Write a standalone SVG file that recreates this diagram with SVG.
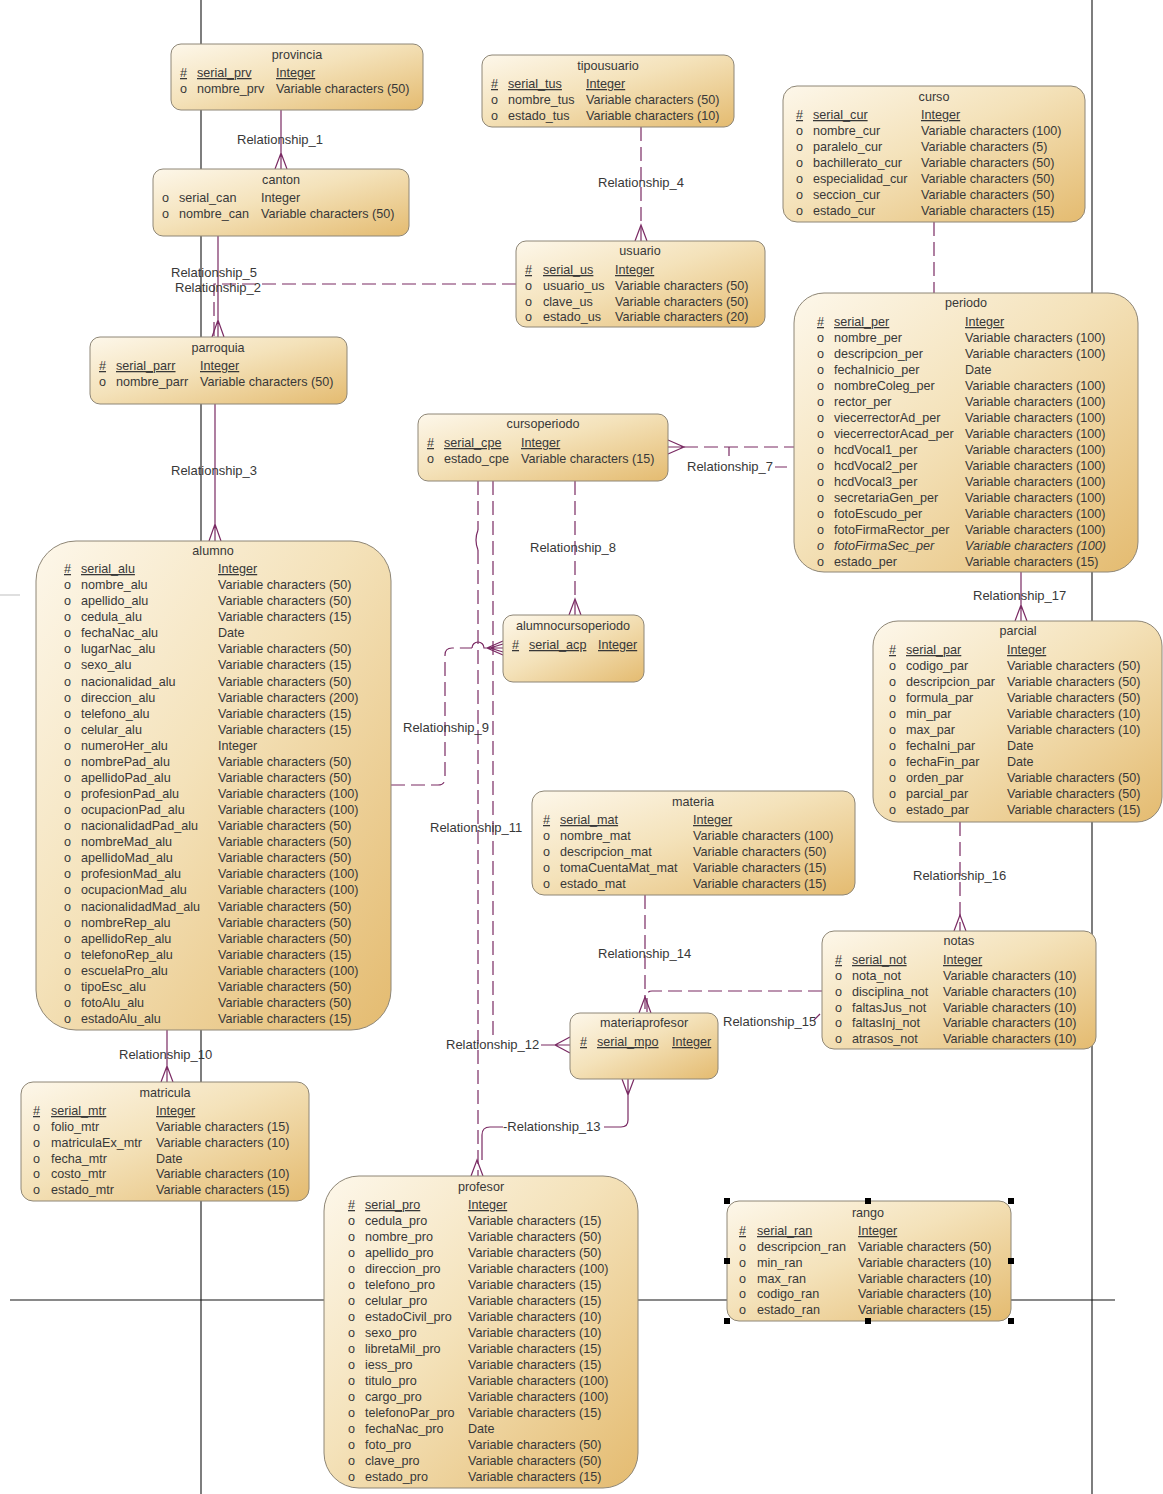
<svg xmlns="http://www.w3.org/2000/svg" width="1163" height="1494" viewBox="0 0 1163 1494">
<defs>
<linearGradient id="g" x1="0" y1="0" x2="1" y2="1">
<stop offset="0" stop-color="#fdf7ea"/>
<stop offset="0.45" stop-color="#f4e2ba"/>
<stop offset="1" stop-color="#e4bb70"/>
</linearGradient>
<style>
.box{fill:url(#g);stroke:#8e8676;stroke-width:1}
text{font-family:"Liberation Sans",Arial,sans-serif;font-size:12.6px;fill:#383838}
.ti{text-anchor:middle}
.u{text-decoration:underline}
.lb{font-size:13px}
.c{stroke:#7a2a63;fill:none;stroke-width:1.2}
.d{stroke-dasharray:14 6}
.pg{stroke:#151515;stroke-width:1.1;fill:none}
.h{fill:#000}
</style>
</defs>
<rect width="1163" height="1494" fill="#fff"/>
<g id="page">
<path class="pg" d="M201,0V1494M1092,0V1494M10,1300H1115"/>
<path d="M0,595H20" stroke="#d5d5d5" stroke-width="1.5"/>
</g>
<g id="connectors">
<path class="c" d="M281,110V169M275,169L281,153L287,169"/>
<path class="c" d="M218,236V337M212,337L218,320L224,337"/>
<path class="c d" d="M516,284H214V337"/>
<path class="c d" d="M641,127V241"/><path class="c" d="M635,241L641,225L647,241"/>
<path class="c d" d="M934,222V293"/>
<path class="c" d="M215,404V541M209,541L215,524L221,541"/>
<path class="c d" d="M684,447H794"/><path class="c" d="M668,440L684,447L668,454M668,447H684M729,447V456M775,467H787"/>
<path class="c d" d="M575,481V615"/><path class="c" d="M569,615L575,599L581,615"/>
<path class="c d" d="M391,785H438Q445,785 445,778V655Q445,648 452,648H472"/><path class="c" d="M472,648A6,6 0 0 1 484,648H503M503,641L487,648L503,655M503,644L490,648L503,652"/>
<path class="c d" d="M478,481V530"/><path class="c" d="M478,530Q474,540 478,550"/><path class="c d" d="M478,550V1176"/>
<path class="c" d="M471,1176L477,1160L483,1176"/>
<path class="c d" d="M493,481V1036"/>
<path class="c" d="M541,1045H570M570,1037L555,1045L570,1053"/>
<path class="c" d="M628,1079V1120Q628,1127 621,1127H604M622,1079L628,1095L634,1079"/>
<path class="c" d="M503,1127H490Q482,1127 482,1135V1160"/>
<path class="c" d="M167,1030V1082M161,1082L167,1066L173,1082"/>
<path class="c d" d="M645,895V1013"/><path class="c" d="M639,1013L645,997L651,1013"/>
<path class="c d" d="M822,991H652Q647,991 647,996V1013"/><path class="c" d="M814,1020L820,1014"/>
<path class="c d" d="M960,822V931"/><path class="c" d="M954,931L960,915L966,931"/>
<path class="c" d="M1021,572V621M1015,621L1021,605L1027,621"/>
</g>
<g id="labels">
<text class="lb" x="237" y="144">Relationship_1</text>
<text class="lb" x="171" y="277">Relationship_5</text>
<text class="lb" x="175" y="292">Relationship_2</text>
<text class="lb" x="598" y="187">Relationship_4</text>
<text class="lb" x="171" y="475">Relationship_3</text>
<text class="lb" x="687" y="471">Relationship_7</text>
<text class="lb" x="530" y="552">Relationship_8</text>
<text class="lb" x="403" y="732">Relationship_9</text>
<text class="lb" x="430" y="832">Relationship_11</text>
<text class="lb" x="119" y="1059">Relationship_10</text>
<text class="lb" x="446" y="1049">Relationship_12</text>
<text class="lb" x="503" y="1131">-Relationship_13</text>
<text class="lb" x="598" y="958">Relationship_14</text>
<text class="lb" x="723" y="1026">Relationship_15</text>
<text class="lb" x="913" y="880">Relationship_16</text>
<text class="lb" x="973" y="600">Relationship_17</text>
</g>
<g id="provincia">
<rect class="box" x="171" y="44" width="252" height="66" rx="10"/>
<text class="ti" x="297" y="59">provincia</text>
<text class="u" y="77"><tspan x="180">#</tspan><tspan x="197">serial_prv</tspan><tspan x="276">Integer</tspan></text>
<text y="93"><tspan x="180">o</tspan><tspan x="197">nombre_prv</tspan><tspan x="276">Variable characters (50)</tspan></text>
</g>
<g id="canton">
<rect class="box" x="153" y="169" width="256" height="67" rx="10"/>
<text class="ti" x="281" y="184">canton</text>
<text y="202"><tspan x="162">o</tspan><tspan x="179">serial_can</tspan><tspan x="261">Integer</tspan></text>
<text y="218"><tspan x="162">o</tspan><tspan x="179">nombre_can</tspan><tspan x="261">Variable characters (50)</tspan></text>
</g>
<g id="tipousuario">
<rect class="box" x="482" y="55" width="252" height="72" rx="10"/>
<text class="ti" x="608" y="70">tipousuario</text>
<text class="u" y="88"><tspan x="491">#</tspan><tspan x="508">serial_tus</tspan><tspan x="586">Integer</tspan></text>
<text y="104"><tspan x="491">o</tspan><tspan x="508">nombre_tus</tspan><tspan x="586">Variable characters (50)</tspan></text>
<text y="120"><tspan x="491">o</tspan><tspan x="508">estado_tus</tspan><tspan x="586">Variable characters (10)</tspan></text>
</g>
<g id="usuario">
<rect class="box" x="516" y="241" width="249" height="86" rx="10"/>
<text class="ti" x="640" y="255">usuario</text>
<text class="u" y="274"><tspan x="525">#</tspan><tspan x="543">serial_us</tspan><tspan x="615">Integer</tspan></text>
<text y="290"><tspan x="525">o</tspan><tspan x="543">usuario_us</tspan><tspan x="615">Variable characters (50)</tspan></text>
<text y="306"><tspan x="525">o</tspan><tspan x="543">clave_us</tspan><tspan x="615">Variable characters (50)</tspan></text>
<text y="321"><tspan x="525">o</tspan><tspan x="543">estado_us</tspan><tspan x="615">Variable characters (20)</tspan></text>
</g>
<g id="curso">
<rect class="box" x="783" y="86" width="302" height="136" rx="14"/>
<text class="ti" x="934" y="101">curso</text>
<text class="u" y="119"><tspan x="796">#</tspan><tspan x="813">serial_cur</tspan><tspan x="921">Integer</tspan></text>
<text y="135"><tspan x="796">o</tspan><tspan x="813">nombre_cur</tspan><tspan x="921">Variable characters (100)</tspan></text>
<text y="151"><tspan x="796">o</tspan><tspan x="813">paralelo_cur</tspan><tspan x="921">Variable characters (5)</tspan></text>
<text y="167"><tspan x="796">o</tspan><tspan x="813">bachillerato_cur</tspan><tspan x="921">Variable characters (50)</tspan></text>
<text y="183"><tspan x="796">o</tspan><tspan x="813">especialidad_cur</tspan><tspan x="921">Variable characters (50)</tspan></text>
<text y="199"><tspan x="796">o</tspan><tspan x="813">seccion_cur</tspan><tspan x="921">Variable characters (50)</tspan></text>
<text y="215"><tspan x="796">o</tspan><tspan x="813">estado_cur</tspan><tspan x="921">Variable characters (15)</tspan></text>
</g>
<g id="periodo">
<rect class="box" x="794" y="293" width="344" height="279" rx="30"/>
<text class="ti" x="966" y="307">periodo</text>
<text class="u" y="326"><tspan x="817">#</tspan><tspan x="834">serial_per</tspan><tspan x="965">Integer</tspan></text>
<text y="342"><tspan x="817">o</tspan><tspan x="834">nombre_per</tspan><tspan x="965">Variable characters (100)</tspan></text>
<text y="358"><tspan x="817">o</tspan><tspan x="834">descripcion_per</tspan><tspan x="965">Variable characters (100)</tspan></text>
<text y="374"><tspan x="817">o</tspan><tspan x="834">fechaInicio_per</tspan><tspan x="965">Date</tspan></text>
<text y="390"><tspan x="817">o</tspan><tspan x="834">nombreColeg_per</tspan><tspan x="965">Variable characters (100)</tspan></text>
<text y="406"><tspan x="817">o</tspan><tspan x="834">rector_per</tspan><tspan x="965">Variable characters (100)</tspan></text>
<text y="422"><tspan x="817">o</tspan><tspan x="834">viecerrectorAd_per</tspan><tspan x="965">Variable characters (100)</tspan></text>
<text y="438"><tspan x="817">o</tspan><tspan x="834">viecerrectorAcad_per</tspan><tspan x="965">Variable characters (100)</tspan></text>
<text y="454"><tspan x="817">o</tspan><tspan x="834">hcdVocal1_per</tspan><tspan x="965">Variable characters (100)</tspan></text>
<text y="470"><tspan x="817">o</tspan><tspan x="834">hcdVocal2_per</tspan><tspan x="965">Variable characters (100)</tspan></text>
<text y="486"><tspan x="817">o</tspan><tspan x="834">hcdVocal3_per</tspan><tspan x="965">Variable characters (100)</tspan></text>
<text y="502"><tspan x="817">o</tspan><tspan x="834">secretariaGen_per</tspan><tspan x="965">Variable characters (100)</tspan></text>
<text y="518"><tspan x="817">o</tspan><tspan x="834">fotoEscudo_per</tspan><tspan x="965">Variable characters (100)</tspan></text>
<text y="534"><tspan x="817">o</tspan><tspan x="834">fotoFirmaRector_per</tspan><tspan x="965">Variable characters (100)</tspan></text>
<text y="550" font-style="italic"><tspan x="817">o</tspan><tspan x="834">fotoFirmaSec_per</tspan><tspan x="965">Variable characters (100)</tspan></text>
<text y="566"><tspan x="817">o</tspan><tspan x="834">estado_per</tspan><tspan x="965">Variable characters (15)</tspan></text>
</g>
<g id="parroquia">
<rect class="box" x="90" y="337" width="257" height="67" rx="10"/>
<text class="ti" x="218" y="352">parroquia</text>
<text class="u" y="370"><tspan x="99">#</tspan><tspan x="116">serial_parr</tspan><tspan x="200">Integer</tspan></text>
<text y="386"><tspan x="99">o</tspan><tspan x="116">nombre_parr</tspan><tspan x="200">Variable characters (50)</tspan></text>
</g>
<g id="cursoperiodo">
<rect class="box" x="418" y="414" width="250" height="67" rx="10"/>
<text class="ti" x="543" y="428">cursoperiodo</text>
<text class="u" y="447"><tspan x="427">#</tspan><tspan x="444">serial_cpe</tspan><tspan x="521">Integer</tspan></text>
<text y="463"><tspan x="427">o</tspan><tspan x="444">estado_cpe</tspan><tspan x="521">Variable characters (15)</tspan></text>
</g>
<g id="alumnocursoperiodo">
<rect class="box" x="503" y="615" width="141" height="67" rx="10"/>
<text class="ti" x="573" y="630">alumnocursoperiodo</text>
<text class="u" y="649"><tspan x="512">#</tspan><tspan x="529">serial_acp</tspan><tspan x="598">Integer</tspan></text>
</g>
<g id="alumno">
<rect class="box" x="36" y="541" width="355" height="489" rx="40"/>
<text class="ti" x="213" y="555">alumno</text>
<text class="u" y="573"><tspan x="64">#</tspan><tspan x="81">serial_alu</tspan><tspan x="218">Integer</tspan></text>
<text y="589.1"><tspan x="64">o</tspan><tspan x="81">nombre_alu</tspan><tspan x="218">Variable characters (50)</tspan></text>
<text y="605.1"><tspan x="64">o</tspan><tspan x="81">apellido_alu</tspan><tspan x="218">Variable characters (50)</tspan></text>
<text y="621.2"><tspan x="64">o</tspan><tspan x="81">cedula_alu</tspan><tspan x="218">Variable characters (15)</tspan></text>
<text y="637.3"><tspan x="64">o</tspan><tspan x="81">fechaNac_alu</tspan><tspan x="218">Date</tspan></text>
<text y="653.4"><tspan x="64">o</tspan><tspan x="81">lugarNac_alu</tspan><tspan x="218">Variable characters (50)</tspan></text>
<text y="669.4"><tspan x="64">o</tspan><tspan x="81">sexo_alu</tspan><tspan x="218">Variable characters (15)</tspan></text>
<text y="685.5"><tspan x="64">o</tspan><tspan x="81">nacionalidad_alu</tspan><tspan x="218">Variable characters (50)</tspan></text>
<text y="701.6"><tspan x="64">o</tspan><tspan x="81">direccion_alu</tspan><tspan x="218">Variable characters (200)</tspan></text>
<text y="717.6"><tspan x="64">o</tspan><tspan x="81">telefono_alu</tspan><tspan x="218">Variable characters (15)</tspan></text>
<text y="733.7"><tspan x="64">o</tspan><tspan x="81">celular_alu</tspan><tspan x="218">Variable characters (15)</tspan></text>
<text y="749.8"><tspan x="64">o</tspan><tspan x="81">numeroHer_alu</tspan><tspan x="218">Integer</tspan></text>
<text y="765.8"><tspan x="64">o</tspan><tspan x="81">nombrePad_alu</tspan><tspan x="218">Variable characters (50)</tspan></text>
<text y="781.9"><tspan x="64">o</tspan><tspan x="81">apellidoPad_alu</tspan><tspan x="218">Variable characters (50)</tspan></text>
<text y="798"><tspan x="64">o</tspan><tspan x="81">profesionPad_alu</tspan><tspan x="218">Variable characters (100)</tspan></text>
<text y="814.1"><tspan x="64">o</tspan><tspan x="81">ocupacionPad_alu</tspan><tspan x="218">Variable characters (100)</tspan></text>
<text y="830.1"><tspan x="64">o</tspan><tspan x="81">nacionalidadPad_alu</tspan><tspan x="218">Variable characters (50)</tspan></text>
<text y="846.2"><tspan x="64">o</tspan><tspan x="81">nombreMad_alu</tspan><tspan x="218">Variable characters (50)</tspan></text>
<text y="862.3"><tspan x="64">o</tspan><tspan x="81">apellidoMad_alu</tspan><tspan x="218">Variable characters (50)</tspan></text>
<text y="878.3"><tspan x="64">o</tspan><tspan x="81">profesionMad_alu</tspan><tspan x="218">Variable characters (100)</tspan></text>
<text y="894.4"><tspan x="64">o</tspan><tspan x="81">ocupacionMad_alu</tspan><tspan x="218">Variable characters (100)</tspan></text>
<text y="910.5"><tspan x="64">o</tspan><tspan x="81">nacionalidadMad_alu</tspan><tspan x="218">Variable characters (50)</tspan></text>
<text y="926.5"><tspan x="64">o</tspan><tspan x="81">nombreRep_alu</tspan><tspan x="218">Variable characters (50)</tspan></text>
<text y="942.6"><tspan x="64">o</tspan><tspan x="81">apellidoRep_alu</tspan><tspan x="218">Variable characters (50)</tspan></text>
<text y="958.7"><tspan x="64">o</tspan><tspan x="81">telefonoRep_alu</tspan><tspan x="218">Variable characters (15)</tspan></text>
<text y="974.8"><tspan x="64">o</tspan><tspan x="81">escuelaPro_alu</tspan><tspan x="218">Variable characters (100)</tspan></text>
<text y="990.8"><tspan x="64">o</tspan><tspan x="81">tipoEsc_alu</tspan><tspan x="218">Variable characters (50)</tspan></text>
<text y="1006.9"><tspan x="64">o</tspan><tspan x="81">fotoAlu_alu</tspan><tspan x="218">Variable characters (50)</tspan></text>
<text y="1023"><tspan x="64">o</tspan><tspan x="81">estadoAlu_alu</tspan><tspan x="218">Variable characters (15)</tspan></text>
</g>
<g id="parcial">
<rect class="box" x="873" y="621" width="289" height="201" rx="25"/>
<text class="ti" x="1018" y="635">parcial</text>
<text class="u" y="654"><tspan x="889">#</tspan><tspan x="906">serial_par</tspan><tspan x="1007">Integer</tspan></text>
<text y="670"><tspan x="889">o</tspan><tspan x="906">codigo_par</tspan><tspan x="1007">Variable characters (50)</tspan></text>
<text y="686"><tspan x="889">o</tspan><tspan x="906">descripcion_par</tspan><tspan x="1007">Variable characters (50)</tspan></text>
<text y="702"><tspan x="889">o</tspan><tspan x="906">formula_par</tspan><tspan x="1007">Variable characters (50)</tspan></text>
<text y="718"><tspan x="889">o</tspan><tspan x="906">min_par</tspan><tspan x="1007">Variable characters (10)</tspan></text>
<text y="734"><tspan x="889">o</tspan><tspan x="906">max_par</tspan><tspan x="1007">Variable characters (10)</tspan></text>
<text y="750"><tspan x="889">o</tspan><tspan x="906">fechaIni_par</tspan><tspan x="1007">Date</tspan></text>
<text y="766"><tspan x="889">o</tspan><tspan x="906">fechaFin_par</tspan><tspan x="1007">Date</tspan></text>
<text y="782"><tspan x="889">o</tspan><tspan x="906">orden_par</tspan><tspan x="1007">Variable characters (50)</tspan></text>
<text y="798"><tspan x="889">o</tspan><tspan x="906">parcial_par</tspan><tspan x="1007">Variable characters (50)</tspan></text>
<text y="814"><tspan x="889">o</tspan><tspan x="906">estado_par</tspan><tspan x="1007">Variable characters (15)</tspan></text>
</g>
<g id="materia">
<rect class="box" x="532" y="791" width="323" height="104" rx="12"/>
<text class="ti" x="693" y="806">materia</text>
<text class="u" y="824"><tspan x="543">#</tspan><tspan x="560">serial_mat</tspan><tspan x="693">Integer</tspan></text>
<text y="840"><tspan x="543">o</tspan><tspan x="560">nombre_mat</tspan><tspan x="693">Variable characters (100)</tspan></text>
<text y="856"><tspan x="543">o</tspan><tspan x="560">descripcion_mat</tspan><tspan x="693">Variable characters (50)</tspan></text>
<text y="872"><tspan x="543">o</tspan><tspan x="560">tomaCuentaMat_mat</tspan><tspan x="693">Variable characters (15)</tspan></text>
<text y="888"><tspan x="543">o</tspan><tspan x="560">estado_mat</tspan><tspan x="693">Variable characters (15)</tspan></text>
</g>
<g id="notas">
<rect class="box" x="822" y="931" width="274" height="118" rx="12"/>
<text class="ti" x="959" y="945">notas</text>
<text class="u" y="964"><tspan x="835">#</tspan><tspan x="852">serial_not</tspan><tspan x="943">Integer</tspan></text>
<text y="980"><tspan x="835">o</tspan><tspan x="852">nota_not</tspan><tspan x="943">Variable characters (10)</tspan></text>
<text y="996"><tspan x="835">o</tspan><tspan x="852">disciplina_not</tspan><tspan x="943">Variable characters (10)</tspan></text>
<text y="1011.5"><tspan x="835">o</tspan><tspan x="852">faltasJus_not</tspan><tspan x="943">Variable characters (10)</tspan></text>
<text y="1027"><tspan x="835">o</tspan><tspan x="852">faltasInj_not</tspan><tspan x="943">Variable characters (10)</tspan></text>
<text y="1043"><tspan x="835">o</tspan><tspan x="852">atrasos_not</tspan><tspan x="943">Variable characters (10)</tspan></text>
</g>
<g id="materiaprofesor">
<rect class="box" x="570" y="1013" width="148" height="66" rx="10"/>
<text class="ti" x="644" y="1027">materiaprofesor</text>
<text class="u" y="1046"><tspan x="580">#</tspan><tspan x="597">serial_mpo</tspan><tspan x="672">Integer</tspan></text>
</g>
<g id="matricula">
<rect class="box" x="21" y="1082" width="288" height="119" rx="12"/>
<text class="ti" x="165" y="1097">matricula</text>
<text class="u" y="1115"><tspan x="33">#</tspan><tspan x="51">serial_mtr</tspan><tspan x="156">Integer</tspan></text>
<text y="1131"><tspan x="33">o</tspan><tspan x="51">folio_mtr</tspan><tspan x="156">Variable characters (15)</tspan></text>
<text y="1147"><tspan x="33">o</tspan><tspan x="51">matriculaEx_mtr</tspan><tspan x="156">Variable characters (10)</tspan></text>
<text y="1163"><tspan x="33">o</tspan><tspan x="51">fecha_mtr</tspan><tspan x="156">Date</tspan></text>
<text y="1178"><tspan x="33">o</tspan><tspan x="51">costo_mtr</tspan><tspan x="156">Variable characters (10)</tspan></text>
<text y="1194"><tspan x="33">o</tspan><tspan x="51">estado_mtr</tspan><tspan x="156">Variable characters (15)</tspan></text>
</g>
<g id="profesor">
<rect class="box" x="324" y="1176" width="314" height="312" rx="35"/>
<text class="ti" x="481" y="1191">profesor</text>
<text class="u" y="1209"><tspan x="348">#</tspan><tspan x="365">serial_pro</tspan><tspan x="468">Integer</tspan></text>
<text y="1225"><tspan x="348">o</tspan><tspan x="365">cedula_pro</tspan><tspan x="468">Variable characters (15)</tspan></text>
<text y="1241"><tspan x="348">o</tspan><tspan x="365">nombre_pro</tspan><tspan x="468">Variable characters (50)</tspan></text>
<text y="1257"><tspan x="348">o</tspan><tspan x="365">apellido_pro</tspan><tspan x="468">Variable characters (50)</tspan></text>
<text y="1273"><tspan x="348">o</tspan><tspan x="365">direccion_pro</tspan><tspan x="468">Variable characters (100)</tspan></text>
<text y="1289"><tspan x="348">o</tspan><tspan x="365">telefono_pro</tspan><tspan x="468">Variable characters (15)</tspan></text>
<text y="1305"><tspan x="348">o</tspan><tspan x="365">celular_pro</tspan><tspan x="468">Variable characters (15)</tspan></text>
<text y="1321"><tspan x="348">o</tspan><tspan x="365">estadoCivil_pro</tspan><tspan x="468">Variable characters (10)</tspan></text>
<text y="1337"><tspan x="348">o</tspan><tspan x="365">sexo_pro</tspan><tspan x="468">Variable characters (10)</tspan></text>
<text y="1353"><tspan x="348">o</tspan><tspan x="365">libretaMil_pro</tspan><tspan x="468">Variable characters (15)</tspan></text>
<text y="1369"><tspan x="348">o</tspan><tspan x="365">iess_pro</tspan><tspan x="468">Variable characters (15)</tspan></text>
<text y="1385"><tspan x="348">o</tspan><tspan x="365">titulo_pro</tspan><tspan x="468">Variable characters (100)</tspan></text>
<text y="1401"><tspan x="348">o</tspan><tspan x="365">cargo_pro</tspan><tspan x="468">Variable characters (100)</tspan></text>
<text y="1417"><tspan x="348">o</tspan><tspan x="365">telefonoPar_pro</tspan><tspan x="468">Variable characters (15)</tspan></text>
<text y="1433"><tspan x="348">o</tspan><tspan x="365">fechaNac_pro</tspan><tspan x="468">Date</tspan></text>
<text y="1449"><tspan x="348">o</tspan><tspan x="365">foto_pro</tspan><tspan x="468">Variable characters (50)</tspan></text>
<text y="1465"><tspan x="348">o</tspan><tspan x="365">clave_pro</tspan><tspan x="468">Variable characters (50)</tspan></text>
<text y="1481"><tspan x="348">o</tspan><tspan x="365">estado_pro</tspan><tspan x="468">Variable characters (15)</tspan></text>
</g>
<g id="rango">
<rect class="box" x="727" y="1201" width="284" height="120" rx="12"/>
<text class="ti" x="868" y="1217">rango</text>
<text class="u" y="1235"><tspan x="739">#</tspan><tspan x="757">serial_ran</tspan><tspan x="858">Integer</tspan></text>
<text y="1251"><tspan x="739">o</tspan><tspan x="757">descripcion_ran</tspan><tspan x="858">Variable characters (50)</tspan></text>
<text y="1267"><tspan x="739">o</tspan><tspan x="757">min_ran</tspan><tspan x="858">Variable characters (10)</tspan></text>
<text y="1283"><tspan x="739">o</tspan><tspan x="757">max_ran</tspan><tspan x="858">Variable characters (10)</tspan></text>
<text y="1298"><tspan x="739">o</tspan><tspan x="757">codigo_ran</tspan><tspan x="858">Variable characters (10)</tspan></text>
<text y="1314"><tspan x="739">o</tspan><tspan x="757">estado_ran</tspan><tspan x="858">Variable characters (15)</tspan></text>
<g class="h">
<rect x="724" y="1198" width="6" height="6"/><rect x="865" y="1198" width="6" height="6"/><rect x="1008" y="1198" width="6" height="6"/>
<rect x="724" y="1258" width="6" height="6"/><rect x="1008" y="1258" width="6" height="6"/>
<rect x="724" y="1318" width="6" height="6"/><rect x="865" y="1318" width="6" height="6"/><rect x="1008" y="1318" width="6" height="6"/>
</g>
</g>
</svg>
